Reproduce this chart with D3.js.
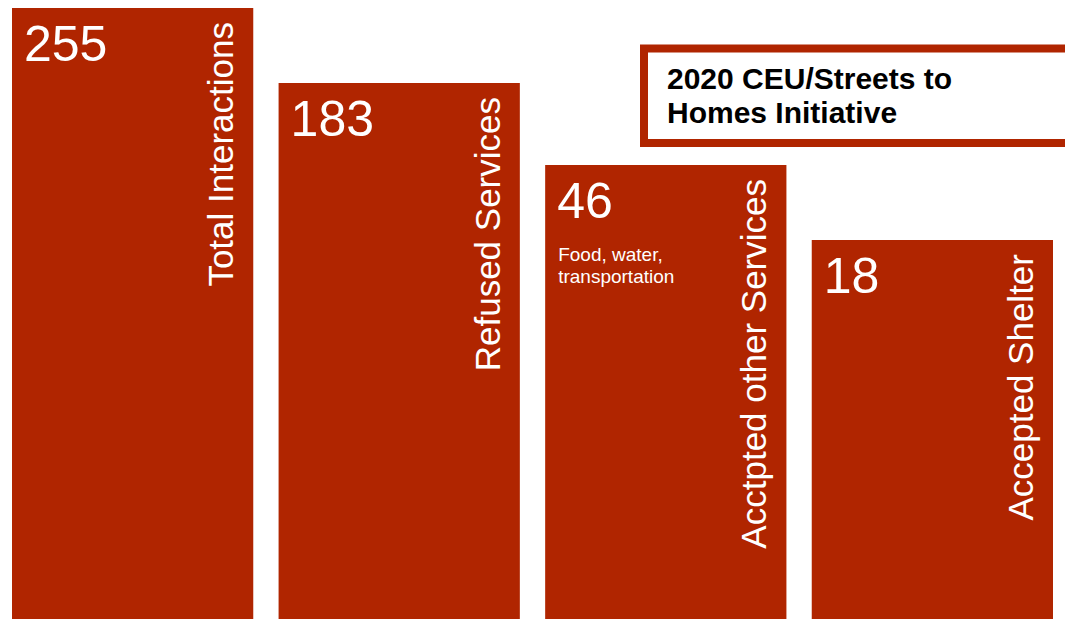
<!DOCTYPE html>
<html>
<head>
<meta charset="utf-8">
<script src="https://cdn.jsdelivr.net/npm/d3@7"></script>
<style>
  html, body { margin: 0; padding: 0; background: #fff; }
  svg { display: block; }
  text { font-family: "Liberation Sans", Arial, sans-serif; }
</style>
</head>
<body>
<svg id="chart" width="1065" height="619"></svg>
<script>
// Outreach outcomes
const categories = ["Total Interactions", "Refused Services", "Acctpted other Services", "Accepted Shelter"];
const values = [255, 183, 46, 18];
const notes = [[], [], ["Food, water,", "transportation"], []];
const titleLines = ["2020 CEU/Streets to", "Homes Initiative"];

const W = 1065, H = 619;
const barColor = "#b02500";
const svg = d3.select("#chart");

const x = d3.scaleBand()
  .domain(categories)
  .range([12, 1053])
  .paddingInner(0.095)
  .paddingOuter(0);

// Stepped value scale: each outcome drops the bar by a similar step
const sorted = values.slice().sort((a, b) => a - b);
const y = d3.scaleLinear()
  .domain(sorted)
  .range([240, 165, 83, 8]);

const data = categories.map((c, i) => ({ cat: c, value: values[i], note: notes[i] }));

const g = svg.append("g");

const bars = g.selectAll("g.bar")
  .data(data)
  .join("g")
  .attr("class", "bar");

bars.append("rect")
  .attr("x", d => x(d.cat))
  .attr("y", d => y(d.value))
  .attr("width", x.bandwidth())
  .attr("height", d => H - y(d.value))
  .attr("fill", barColor);

// Big value number
bars.append("text")
  .attr("x", d => x(d.cat) + 12)
  .attr("y", d => y(d.value) + 53)
  .attr("fill", "#fff")
  .attr("font-size", 50)
  .text(d => d.value);

// Small note under the value
bars.each(function(d) {
  const t = d3.select(this).append("text")
    .attr("fill", "#fff")
    .attr("font-size", 19);
  d.note.forEach((line, j) => {
    t.append("tspan")
      .attr("x", x(d.cat) + 13)
      .attr("y", y(d.value) + 96 + j * 22)
      .text(line);
  });
});

// Rotated category label along the right side
bars.append("text")
  .attr("transform", d => `translate(${x(d.cat) + x.bandwidth() - 20},${y(d.value) + 14}) rotate(-90)`)
  .attr("text-anchor", "end")
  .attr("fill", "#fff")
  .attr("font-size", 35)
  .text(d => d.cat);

// Title box
const box = svg.append("g");
box.append("rect")
  .attr("x", 644)
  .attr("y", 48.5)
  .attr("width", 460)
  .attr("height", 94.5)
  .attr("fill", "#fff")
  .attr("stroke", barColor)
  .attr("stroke-width", 8);

box.append("text")
  .attr("font-size", 30)
  .attr("font-weight", "bold")
  .attr("fill", "#000")
  .selectAll("tspan")
  .data(titleLines)
  .join("tspan")
  .attr("x", 667)
  .attr("y", (d, i) => 89 + i * 34)
  .text(d => d);
</script>
</body>
</html>
